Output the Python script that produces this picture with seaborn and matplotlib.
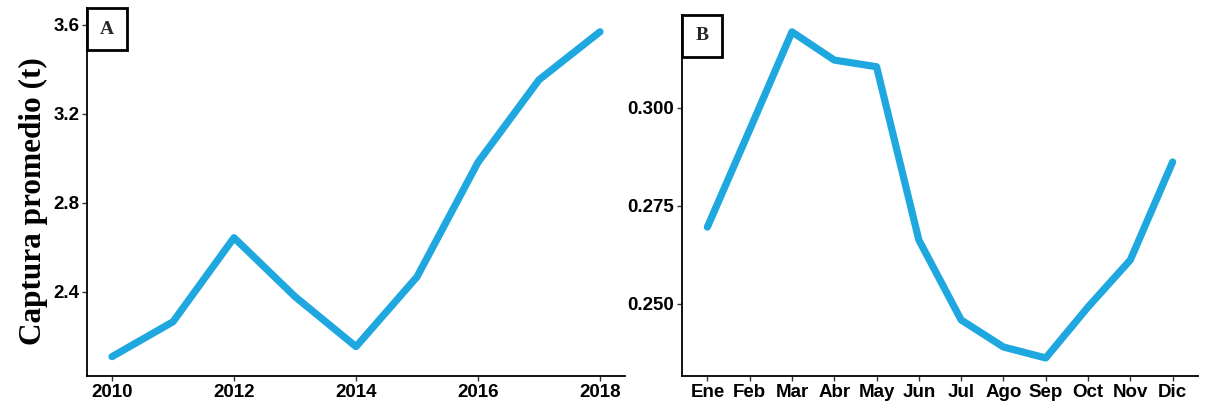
import matplotlib
matplotlib.use("Agg")
import matplotlib.pyplot as plt
from matplotlib.patches import Rectangle
import numpy as np
import pandas as pd
import seaborn as sns

# Mean catch by year (panel A) and by month (panel B)
years = [2010, 2011, 2012, 2013, 2014, 2015, 2016, 2017, 2018]
catch_year = [2.108, 2.265, 2.643, 2.378, 2.153, 2.467, 2.982, 3.353, 3.569]

months = ["Ene", "Feb", "Mar", "Abr", "May", "Jun",
          "Jul", "Ago", "Sep", "Oct", "Nov", "Dic"]
catch_month = [0.2696, 0.2944, 0.3194, 0.3122, 0.3105, 0.2663,
               0.2459, 0.2390, 0.2362, 0.2492, 0.2612, 0.2862]

year_ticks = [2010, 2012, 2014, 2016, 2018]
a_yticks = [2.4, 2.8, 3.2, 3.6]
b_yticks = [0.250, 0.275, 0.300]

sns.set_theme(style="ticks")
plt.rcParams["font.family"] = ["Liberation Sans", "DejaVu Sans"]

LINE = "#1ea8df"
W, H = 1208, 404
fig = plt.figure(figsize=(W / 100, H / 100), dpi=100)


def px_axes(left, right, top, bottom):
    return fig.add_axes([left / W, 1 - bottom / H, (right - left) / W, (bottom - top) / H])


def style(ax):
    sns.despine(ax=ax)
    for s in ("left", "bottom"):
        ax.spines[s].set_linewidth(1.3)
        ax.spines[s].set_color("black")
    ax.tick_params(axis="both", length=3.5, width=1.0, color="#333333",
                   labelsize=13.5, labelcolor="black", pad=2)
    for lab in ax.get_xticklabels() + ax.get_yticklabels():
        lab.set_fontweight("bold")
    ax.set_facecolor("white")


def panel_tag(letter, left, top, w=40, h=42):
    fig.patches.append(Rectangle((left / W, 1 - (top + h) / H), w / W, h / H,
                                 transform=fig.transFigure, fill=True,
                                 facecolor="white", edgecolor="black",
                                 linewidth=2.0, zorder=10))
    fig.text((left + w / 2) / W, 1 - (top + h / 2) / H, letter,
             ha="center", va="center", fontsize=14, fontweight="bold",
             family=["Liberation Serif", "DejaVu Serif"], zorder=11)


# Panel A: yearly series
df_a = pd.DataFrame({"year": years, "catch": catch_year})
ax_a = px_axes(87, 625, 8, 376)
sns.lineplot(data=df_a, x="year", y="catch", ax=ax_a, color=LINE,
             linewidth=5.2)
ax_a.set_xlim(2009.59, 2018.41)
ax_a.set_ylim(2.021, 3.676)
ax_a.set_xticks(year_ticks)
ax_a.set_xticklabels([str(y) for y in year_ticks])
ax_a.set_yticks(a_yticks)
ax_a.set_yticklabels([f"{v:.1f}" for v in a_yticks])
ax_a.set_xlabel("")
ax_a.set_ylabel("Captura promedio (t)", fontsize=22.5, fontweight="bold",
                color="black", family=["Liberation Serif", "DejaVu Serif"])
ax_a.yaxis.set_label_coords(-0.072, 0.475)
style(ax_a)

# Panel B: monthly series
df_b = pd.DataFrame({"month": pd.Categorical(months, categories=months, ordered=True),
                     "catch": catch_month})
ax_b = px_axes(682, 1198, 15, 376)
sns.lineplot(data=df_b, x="month", y="catch", ax=ax_b, color=LINE,
             linewidth=5.2, sort=False)
ax_b.set_xlim(-0.6, len(months) - 0.4)
ax_b.set_ylim(0.2316, 0.3237)
ax_b.set_xticks(range(len(months)))
ax_b.set_xticklabels(months)
ax_b.set_yticks(b_yticks)
ax_b.set_yticklabels([f"{v:.3f}" for v in b_yticks])
ax_b.set_xlabel("")
ax_b.set_ylabel("")
style(ax_b)

panel_tag("A", 87, 8)
panel_tag("B", 682, 15)

fig.savefig("out.png", dpi=100, facecolor="white")
